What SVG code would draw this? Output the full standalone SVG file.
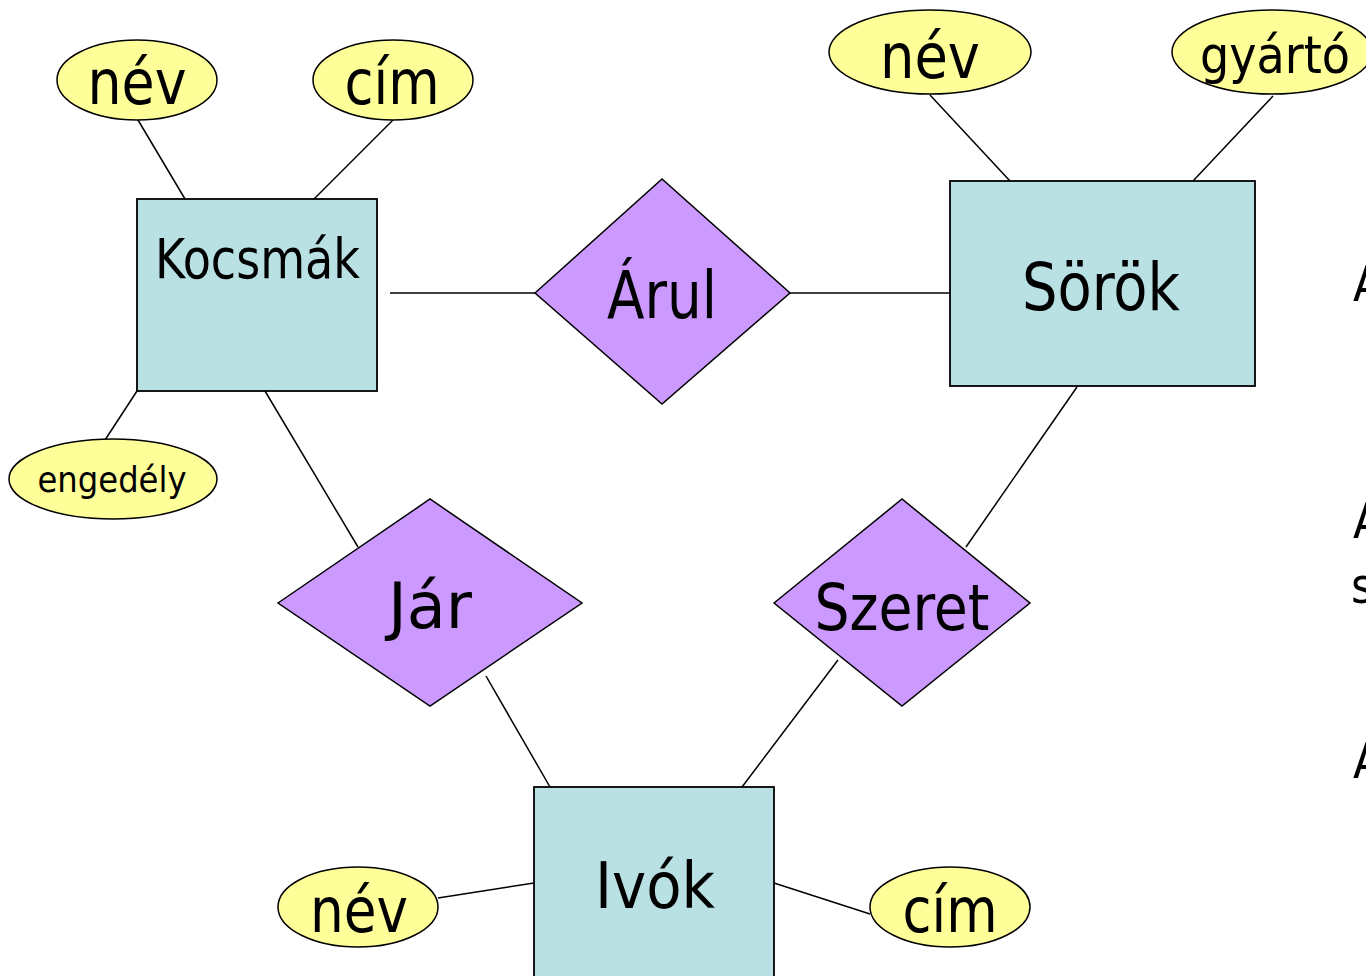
<svg xmlns="http://www.w3.org/2000/svg" width="1366" height="976" viewBox="0 0 1366 976">
<style>
.ent{fill:#B9E0E3;stroke:#000;stroke-width:1.8}
.rel{fill:#CC99FF;stroke:#000;stroke-width:1.5}
.att{fill:#FFFF99;stroke:#000;stroke-width:1.5}
.ln{stroke:#000;stroke-width:1.5;fill:none}
text{font-family:"DejaVu Sans Condensed","DejaVu Sans","Liberation Sans",sans-serif;fill:#000;text-anchor:middle}
.side{text-anchor:start;font-size:49px}
</style>
<rect width="1366" height="976" fill="#fff"/>
<g id="connectors">
<line class="ln" x1="138" y1="120" x2="185" y2="199"/>
<line class="ln" x1="393" y1="120" x2="314" y2="199"/>
<line class="ln" x1="105" y1="440" x2="137" y2="391"/>
<line class="ln" x1="390" y1="293" x2="535" y2="293"/>
<line class="ln" x1="790" y1="293" x2="950" y2="293"/>
<line class="ln" x1="930" y1="95" x2="1010" y2="181"/>
<line class="ln" x1="1273" y1="96" x2="1193" y2="181"/>
<line class="ln" x1="1077" y1="387" x2="966" y2="547"/>
<line class="ln" x1="838" y1="660" x2="742" y2="787"/>
<line class="ln" x1="262" y1="386" x2="358" y2="547"/>
<line class="ln" x1="486" y1="676" x2="550" y2="787"/>
<line class="ln" x1="438" y1="898" x2="534" y2="883"/>
<line class="ln" x1="774" y1="883" x2="870" y2="914"/>
</g>
<g id="kocsmak">
<rect class="ent" x="137" y="199" width="240" height="192"/>
<text x="257.5" y="278" font-size="55" textLength="205" lengthAdjust="spacingAndGlyphs">Kocsmák</text>
</g>
<g id="kocsmak-nev">
<ellipse class="att" cx="137" cy="80" rx="80" ry="40"/>
<text x="137" y="104" font-size="62" textLength="99" lengthAdjust="spacingAndGlyphs">név</text>
</g>
<g id="kocsmak-cim">
<ellipse class="att" cx="393" cy="80" rx="80" ry="40"/>
<text x="392" y="104" font-size="62" textLength="95" lengthAdjust="spacingAndGlyphs">cím</text>
</g>
<g id="kocsmak-engedely">
<ellipse class="att" cx="113" cy="479" rx="104" ry="40"/>
<text x="112" y="492" font-size="36" textLength="149" lengthAdjust="spacingAndGlyphs">engedély</text>
</g>
<g id="arul">
<polygon class="rel" points="535,293 662,179 790,293 662,404"/>
<text x="662" y="318" font-size="66" textLength="110" lengthAdjust="spacingAndGlyphs">Árul</text>
</g>
<g id="sorok">
<rect class="ent" x="950" y="181" width="305" height="205"/>
<text x="1101" y="310" font-size="66" textLength="158" lengthAdjust="spacingAndGlyphs">Sörök</text>
</g>
<g id="sorok-nev">
<ellipse class="att" cx="930" cy="52" rx="101" ry="42"/>
<text x="930" y="78" font-size="62" textLength="100" lengthAdjust="spacingAndGlyphs">név</text>
</g>
<g id="sorok-gyarto">
<ellipse class="att" cx="1272" cy="52" rx="100" ry="42"/>
<text x="1275" y="73" font-size="52" textLength="150" lengthAdjust="spacingAndGlyphs">gyártó</text>
</g>
<g id="jar">
<polygon class="rel" points="278,603 430,499 582,603 430,706"/>
<text x="430" y="628" font-size="64" textLength="84" lengthAdjust="spacingAndGlyphs">Jár</text>
</g>
<g id="szeret">
<polygon class="rel" points="774,603 902,499 1030,603 902,706"/>
<text x="902" y="630" font-size="64" textLength="175" lengthAdjust="spacingAndGlyphs">Szeret</text>
</g>
<g id="ivok">
<rect class="ent" x="534" y="787" width="240" height="200"/>
<text x="655" y="908" font-size="64" textLength="120" lengthAdjust="spacingAndGlyphs">Ivók</text>
</g>
<g id="ivok-nev">
<ellipse class="att" cx="358" cy="907" rx="80" ry="40"/>
<text x="359" y="932" font-size="62" textLength="98" lengthAdjust="spacingAndGlyphs">név</text>
</g>
<g id="ivok-cim">
<ellipse class="att" cx="950" cy="907" rx="80" ry="40"/>
<text x="950" y="932" font-size="62" textLength="95" lengthAdjust="spacingAndGlyphs">cím</text>
</g>
<g id="side-text">
<text class="side" x="1353" y="301">A</text>
<text class="side" x="1353" y="538">A</text>
<text class="side" x="1351" y="603">s</text>
<text class="side" x="1353" y="778">A</text>
</g>
</svg>
